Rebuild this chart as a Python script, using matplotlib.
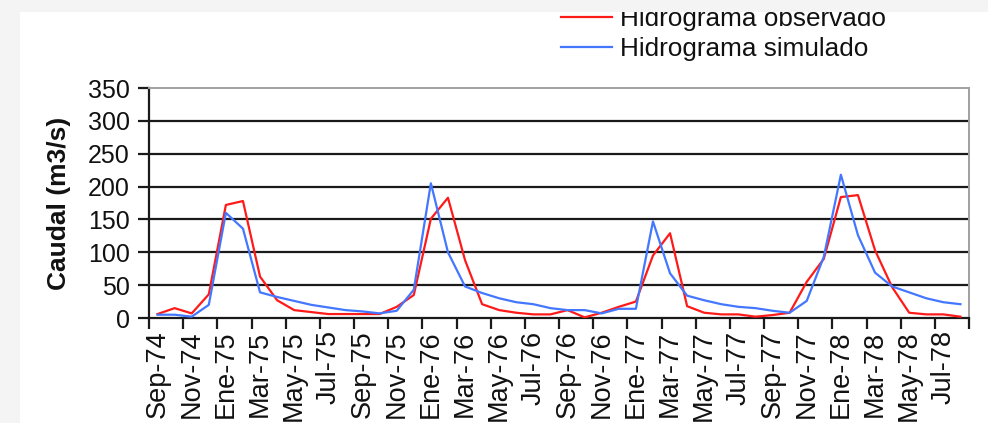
import matplotlib
matplotlib.use("Agg")
import matplotlib.pyplot as plt
from matplotlib.patches import Rectangle

plt.rcParams['font.family'] = ['Liberation Sans', 'DejaVu Sans']

month_names = ["Ene", "Feb", "Mar", "Abr", "May", "Jun", "Jul", "Ago", "Sep", "Oct", "Nov", "Dic"]
categories = []
for k in range(48):
    m = (8 + k) % 12
    y = 74 + (8 + k) // 12
    categories.append(f"{month_names[m]}-{y}")

observado = [6, 15, 7, 36, 172, 178, 63, 27, 12, 9, 6, 6,
             6, 6, 17, 35, 151, 183, 88, 21, 12, 8, 5.5, 5.5,
             12, 1, 8, 17, 25, 95, 129, 18, 8, 5.5, 5.5, 2,
             4.5, 8, 55, 90, 184, 187, 103, 47, 8, 5.5, 5.5, 2]
simulado = [5, 5, 2, 20, 160, 136, 39, 32, 26, 20, 16, 12,
            10, 7, 11, 43, 205, 100, 48, 38, 30, 24, 21, 15,
            12, 12, 7, 14, 14, 147, 68, 34, 27, 21, 17, 15,
            11, 8, 26, 93, 218, 126, 69, 48, 39, 30, 24, 21]

yticks = [0, 50, 100, 150, 200, 250, 300, 350]

TXT = '#111111'
fig = plt.figure(figsize=(9.88, 4.23), dpi=100)
fig.patch.set_facecolor('white')
# light grey frame around the white panel (left strip and top band)
fig.patches.append(Rectangle((0, 0), 20/988, 1, transform=fig.transFigure,
                             facecolor='#f4f4f4', edgecolor='none', zorder=20))
fig.patches.append(Rectangle((0, 1 - 12/423), 1, 12/423, transform=fig.transFigure,
                             facecolor='#f4f4f4', edgecolor='none', zorder=20))

ax = fig.add_axes([149/988, 1 - 318/423, (969 - 149)/988, (318 - 88)/423])
ax.set_facecolor('white')
x = list(range(len(categories)))
l1, = ax.plot(x, observado, color='#ff1a1a', lw=1.6, zorder=3, label='Hidrograma observado')
l2, = ax.plot(x, simulado, color='#4477ff', lw=1.6, zorder=3, label='Hidrograma simulado')

ax.set_xlim(-0.5, 47.5)
ax.set_ylim(0, 350)
ax.set_yticks(yticks)
ax.set_yticklabels([str(v) for v in yticks], fontsize=18, color=TXT)
for v in yticks[1:-1]:
    ax.axhline(v, color='#1a1a1a', lw=1.6, zorder=1)

ax.set_xticks([b - 0.5 for b in range(0, 49, 2)])
ax.set_xticklabels([])
ax.set_xticks(x[::2], minor=True)
ax.set_xticklabels(categories[::2], minor=True, rotation=90, fontsize=19.5, color=TXT)
ax.tick_params(axis='x', which='minor', length=0, pad=9)
ax.tick_params(axis='x', which='major', length=8, width=1.6, color='#1a1a1a', direction='out')
ax.tick_params(axis='y', length=8, width=1.6, color='#1a1a1a', direction='out', pad=6)

ax.spines['left'].set_color('#1a1a1a')
ax.spines['left'].set_linewidth(1.6)
ax.spines['bottom'].set_color('#1a1a1a')
ax.spines['bottom'].set_linewidth(1.6)
ax.spines['top'].set_color('#a0a0a0')
ax.spines['top'].set_linewidth(1.4)
ax.spines['right'].set_color('#a0a0a0')
ax.spines['right'].set_linewidth(1.4)

ax.set_ylabel('Caudal (m3/s)', fontsize=19, fontweight='bold', labelpad=12, color=TXT)

leg = fig.legend(handles=[l1, l2], loc='upper left', bbox_to_anchor=(551/988, 1 + 3/423),
                 frameon=False, fontsize=18.8, handlelength=1.95, handletextpad=0.28,
                 labelspacing=0.22, borderaxespad=0)
leg.set_zorder(5)
for t in leg.get_texts():
    t.set_color(TXT)

fig.savefig('out.png', dpi=100, facecolor=fig.get_facecolor())
